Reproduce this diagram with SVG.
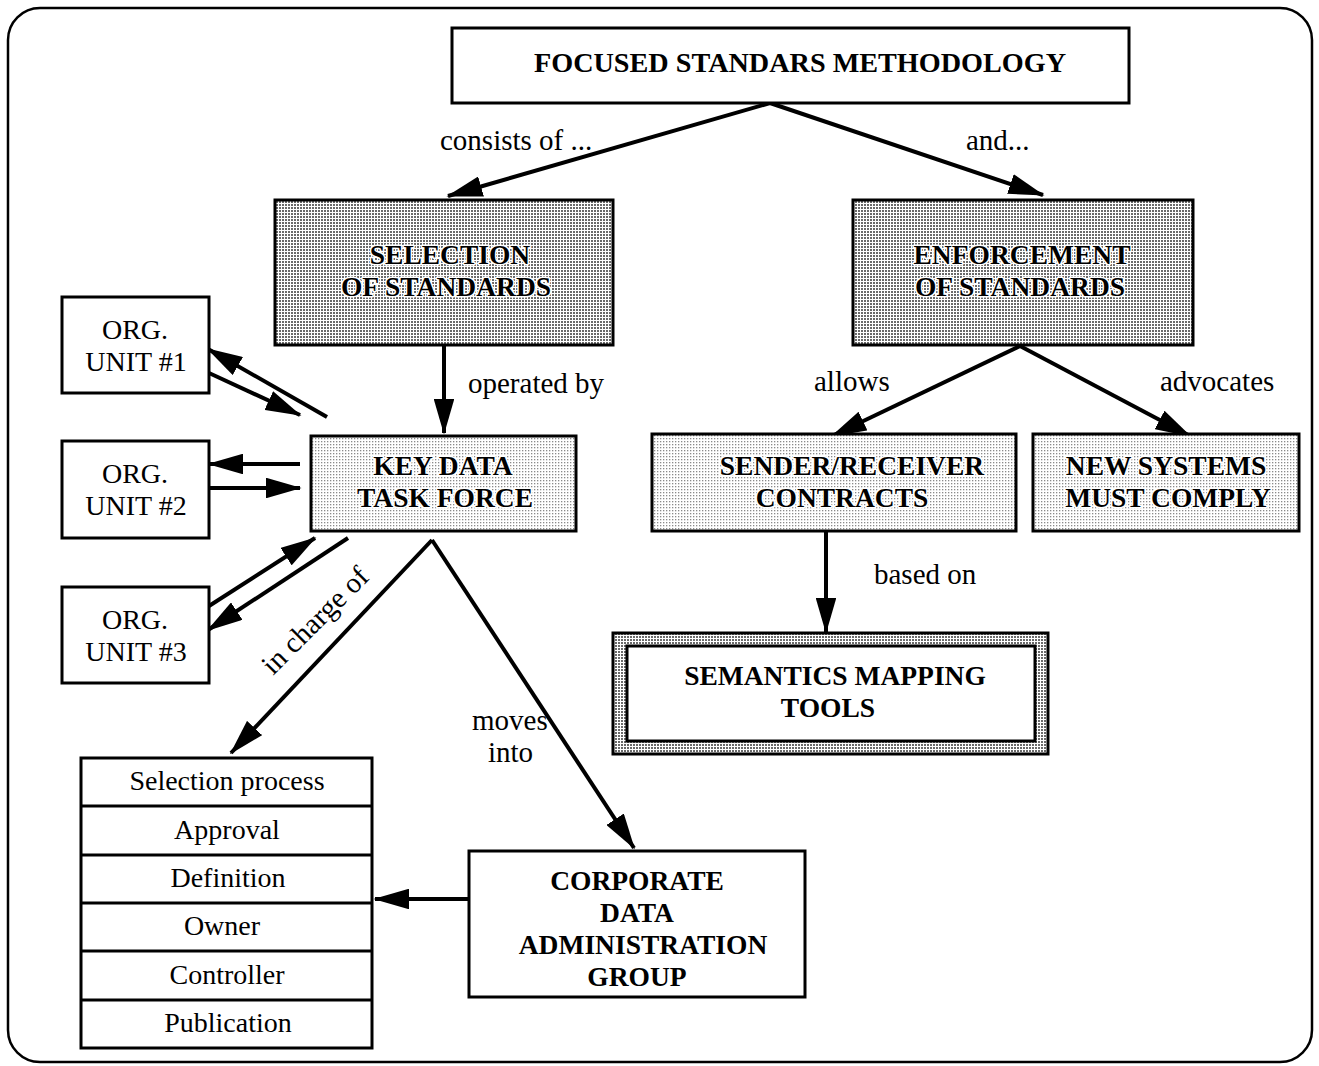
<svg xmlns="http://www.w3.org/2000/svg" width="1319" height="1066" viewBox="0 0 1319 1066">
  <style>
    .box { stroke: #000; stroke-width: 3; }
    .plain { fill: #fff; }
    .heavy { fill: url(#dotsDark); }
    .light { fill: url(#dotsLight); }
    .t { font-family: "Liberation Serif", "DejaVu Serif", serif; font-size: 28px; fill: #000; text-anchor: middle; }
    .b { font-weight: bold; font-size: 27.5px; }
    .halo { paint-order: stroke; stroke: #fff; stroke-width: 3px; stroke-linejoin: round; }
    .lbl { font-family: "Liberation Serif", "DejaVu Serif", serif; font-size: 29px; fill: #000; }
    .con { stroke: #000; stroke-width: 4; fill: none; }
    .arr { marker-end: url(#head); }
  </style>
  <defs>
    <pattern id="dotsDark" width="3" height="3" patternUnits="userSpaceOnUse">
      <rect width="3" height="3" fill="#fff"/>
      <rect width="2" height="2" fill="#6a6a6a"/>
    </pattern>
    <pattern id="dotsLight" width="3" height="3" patternUnits="userSpaceOnUse">
      <rect width="3" height="3" fill="#fff"/>
      <rect width="1.3" height="1.3" fill="#8a8a8a"/>
    </pattern>
    <marker id="head" markerWidth="9" markerHeight="5.2" refX="8.6" refY="2.6" orient="auto" markerUnits="strokeWidth">
      <path d="M0,0 L9,2.6 L0,5.2 Z" fill="#000"/>
    </marker>
  </defs>

  <!-- outer frame -->
  <rect x="8" y="8" width="1304" height="1054" rx="32" ry="32" fill="#fff" stroke="#000" stroke-width="2.5"/>

  <!-- connectors -->
  <g id="connectors">
    <line class="con arr" x1="770" y1="103" x2="448" y2="196"/>
    <line class="con arr" x1="770" y1="103" x2="1043" y2="195"/>
    <line class="con arr" x1="444" y1="345" x2="444" y2="433"/>
    <line class="con arr" x1="1020" y1="346" x2="832" y2="436"/>
    <line class="con arr" x1="1020" y1="346" x2="1190" y2="436"/>
    <line class="con arr" x1="826" y1="532" x2="826" y2="632"/>
    <!-- org unit links -->
    <line class="con arr" x1="327" y1="417" x2="208" y2="349"/>
    <line class="con arr" x1="209" y1="373" x2="300" y2="415"/>
    <line class="con arr" x1="300" y1="464" x2="209" y2="464"/>
    <line class="con arr" x1="209" y1="488" x2="300" y2="488"/>
    <line class="con arr" x1="209" y1="606" x2="315" y2="538"/>
    <line class="con arr" x1="348" y1="538" x2="208" y2="630"/>
    <!-- task force outputs -->
    <line class="con arr" x1="432" y1="540" x2="231" y2="753"/>
    <line class="con arr" x1="432" y1="540" x2="634" y2="848"/>
    <line class="con arr" x1="469" y1="899" x2="375" y2="899"/>
  </g>

  <!-- connector labels -->
  <g id="labels">
    <text class="lbl" x="440" y="150">consists of ...</text>
    <text class="lbl" x="966" y="150">and...</text>
    <text class="lbl" x="468" y="393">operated by</text>
    <text class="lbl" x="814" y="391">allows</text>
    <text class="lbl" x="1160" y="391">advocates</text>
    <text class="lbl" x="874" y="584">based on</text>
    <text class="lbl" x="472" y="730" font-size="27">moves</text>
    <text class="lbl" x="488" y="762" font-size="27">into</text>
    <text class="lbl" transform="translate(273,676) rotate(-45)">in charge of</text>
  </g>

  <g id="methodology">
    <rect class="box plain" x="452" y="28" width="677" height="75"/>
    <text class="t b" x="800" y="72" textLength="532" lengthAdjust="spacingAndGlyphs">FOCUSED STANDARS METHODOLOGY</text>
  </g>

  <g id="selection">
    <rect class="box heavy" x="275" y="200" width="338" height="145"/>
    <text class="t b halo" x="450" y="264">SELECTION</text>
    <text class="t b halo" x="446" y="296">OF STANDARDS</text>
  </g>

  <g id="enforcement">
    <rect class="box heavy" x="853" y="200" width="340" height="145"/>
    <text class="t b halo" x="1022" y="264">ENFORCEMENT</text>
    <text class="t b halo" x="1020" y="296">OF STANDARDS</text>
  </g>

  <g id="task-force">
    <rect class="box light" x="311" y="436" width="265" height="95"/>
    <text class="t b halo" x="443" y="475">KEY DATA</text>
    <text class="t b halo" x="445" y="507">TASK FORCE</text>
  </g>

  <g id="org-unit-1">
    <rect class="box plain" x="62" y="297" width="147" height="96"/>
    <text class="t" x="135" y="339">ORG.</text>
    <text class="t" x="136" y="371">UNIT #1</text>
  </g>
  <g id="org-unit-2">
    <rect class="box plain" x="62" y="441" width="147" height="97"/>
    <text class="t" x="135" y="483">ORG.</text>
    <text class="t" x="136" y="515">UNIT #2</text>
  </g>
  <g id="org-unit-3">
    <rect class="box plain" x="62" y="587" width="147" height="96"/>
    <text class="t" x="135" y="629">ORG.</text>
    <text class="t" x="136" y="661">UNIT #3</text>
  </g>

  <g id="contracts">
    <rect class="box light" x="652" y="434" width="364" height="97"/>
    <text class="t b halo" x="852" y="475">SENDER/RECEIVER</text>
    <text class="t b halo" x="842" y="507">CONTRACTS</text>
  </g>

  <g id="new-systems">
    <rect class="box light" x="1033" y="434" width="266" height="97"/>
    <text class="t b halo" x="1166" y="475">NEW SYSTEMS</text>
    <text class="t b halo" x="1168" y="507">MUST COMPLY</text>
  </g>

  <g id="mapping-tools">
    <rect x="613" y="633" width="435" height="121" fill="url(#dotsDark)" stroke="#000" stroke-width="3"/>
    <rect x="627" y="646" width="408" height="95" fill="#fff" stroke="#000" stroke-width="3"/>
    <text class="t b" x="835" y="685">SEMANTICS MAPPING</text>
    <text class="t b" x="828" y="717">TOOLS</text>
  </g>

  <g id="responsibilities">
    <rect class="box plain" x="81" y="758" width="291" height="290"/>
    <line x1="81" y1="806" x2="372" y2="806" stroke="#000" stroke-width="3"/>
    <line x1="81" y1="855" x2="372" y2="855" stroke="#000" stroke-width="3"/>
    <line x1="81" y1="903" x2="372" y2="903" stroke="#000" stroke-width="3"/>
    <line x1="81" y1="951" x2="372" y2="951" stroke="#000" stroke-width="3"/>
    <line x1="81" y1="1000" x2="372" y2="1000" stroke="#000" stroke-width="3"/>
    <text class="t" x="227" y="790">Selection process</text>
    <text class="t" x="227" y="839">Approval</text>
    <text class="t" x="228" y="887">Definition</text>
    <text class="t" x="222" y="935">Owner</text>
    <text class="t" x="227" y="984">Controller</text>
    <text class="t" x="228" y="1032">Publication</text>
  </g>

  <g id="data-admin">
    <rect class="box plain" x="469" y="851" width="336" height="146"/>
    <text class="t b" x="637" y="890">CORPORATE</text>
    <text class="t b" x="637" y="922">DATA</text>
    <text class="t b" x="643" y="954">ADMINISTRATION</text>
    <text class="t b" x="637" y="986">GROUP</text>
  </g>
</svg>
